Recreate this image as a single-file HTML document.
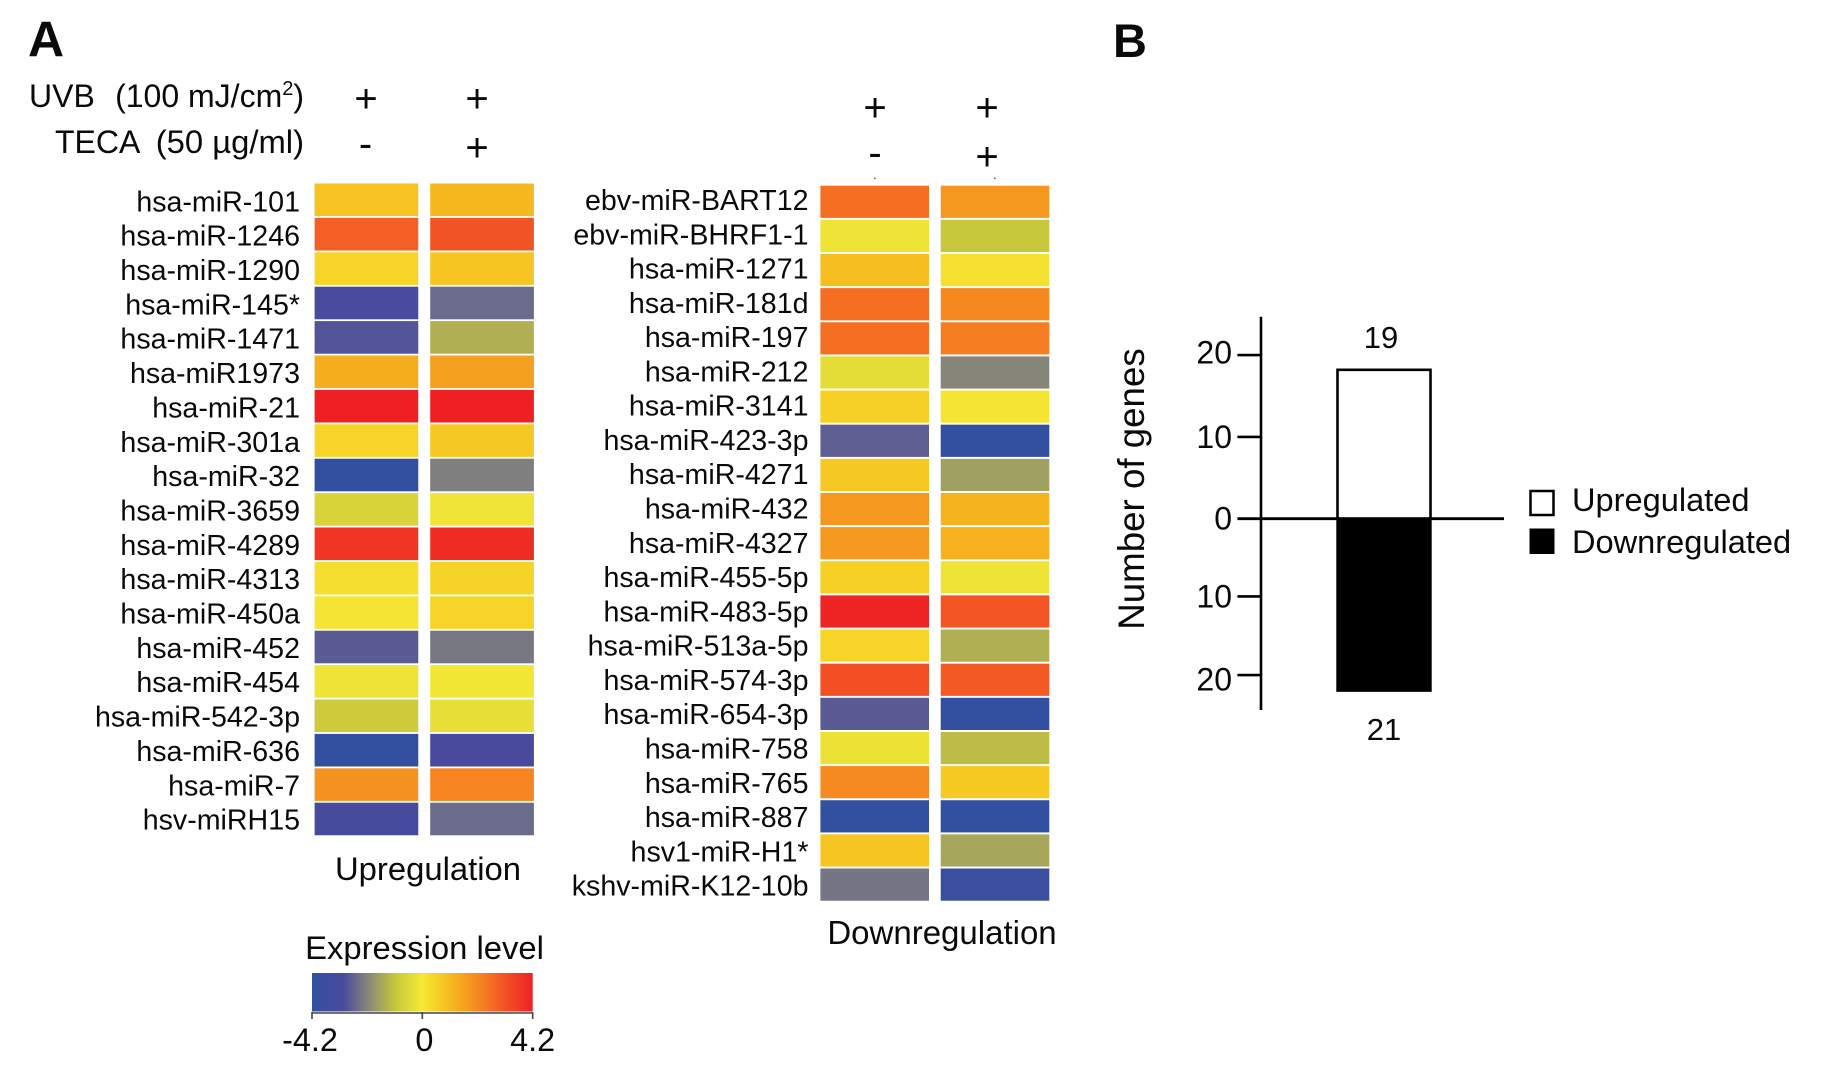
<!DOCTYPE html>
<html lang="en">
<head>
<meta charset="utf-8">
<title>miRNA expression heatmaps and gene counts</title>
<style>
html,body{margin:0;padding:0;background:#fff;}
svg{display:block;}
text{font-family:"Liberation Sans",Arial,sans-serif;fill:#0a0a0a;}
</style>
</head>
<body>
<svg id="figure" xmlns="http://www.w3.org/2000/svg" width="1831" height="1078" viewBox="0 0 1831 1078">
  <rect width="1831" height="1078" fill="#ffffff"/>
  <text x="28" y="56.5" font-size="50" font-weight="bold">A</text>
  <text x="1113" y="57" font-size="47" font-weight="bold">B</text>

  <text x="29" y="107" font-size="32">UVB</text>
  <text x="304" y="107" font-size="32" text-anchor="end">(100 mJ/cm<tspan font-size="20" dy="-12">2</tspan><tspan dy="12">)</tspan></text>
  <text x="55" y="153" font-size="32">TECA</text>
  <text x="304" y="153" font-size="32.8" text-anchor="end">(50 µg/ml)</text>

  <text x="366" y="112" font-size="40" text-anchor="middle">+</text>
  <text x="477" y="112" font-size="40" text-anchor="middle">+</text>
  <text x="365.5" y="157" font-size="40" text-anchor="middle">-</text>
  <text x="477" y="161" font-size="40" text-anchor="middle">+</text>

  <text x="875" y="121" font-size="40" text-anchor="middle">+</text>
  <text x="987" y="121" font-size="40" text-anchor="middle">+</text>
  <text x="875" y="166" font-size="40" text-anchor="middle">-</text>
  <text x="987" y="170" font-size="40" text-anchor="middle">+</text>
  <rect x="874" y="177.5" width="1.5" height="1.5" fill="#555"/>
  <rect x="994" y="177.5" width="1.5" height="1.5" fill="#555"/>

  <text x="428" y="880" font-size="32.8" text-anchor="middle">Upregulation</text>
  <text x="942" y="944" font-size="33" text-anchor="middle">Downregulation</text>
  <text x="424.5" y="959" font-size="32.8" text-anchor="middle">Expression level</text>

  <text transform="translate(1144 489) rotate(-90)" font-size="36.7" text-anchor="middle">Number of genes</text>

  <rect x="1530.5" y="491" width="23" height="24" fill="#fff" stroke="#000" stroke-width="2.5"/>
  <text x="1572" y="511" font-size="32.6">Upregulated</text>
  <rect x="1529.5" y="528.5" width="25" height="25.5" fill="#000"/>
  <text x="1572" y="553" font-size="32.6">Downregulated</text>

  <g id="heat-up"></g>
  <g id="heat-down"></g>
  <g id="colorbar"></g>
  <g id="bars"></g>
</svg>

<script>
// Upregulation heatmap data (expression level, log scale -4.2..4.2)
const upCategories = ["hsa-miR-101","hsa-miR-1246","hsa-miR-1290","hsa-miR-145*","hsa-miR-1471","hsa-miR1973","hsa-miR-21","hsa-miR-301a","hsa-miR-32","hsa-miR-3659","hsa-miR-4289","hsa-miR-4313","hsa-miR-450a","hsa-miR-452","hsa-miR-454","hsa-miR-542-3p","hsa-miR-636","hsa-miR-7","hsv-miRH15"];
const upControl = [0.85,2.9,0.45,-3.1,-2.85,1.35,4.2,0.45,-4.2,-0.65,3.75,0.25,0.12,-2.75,-0.15,-0.9,-4.2,1.9,-3.15];
const upTeca = [1.1,3.15,0.8,-2.5,-1.4,1.65,4.2,0.75,-2.2,-0.12,3.95,0.5,0.45,-2.3,-0.05,-0.3,-3.05,2.2,-2.5];

// Downregulation heatmap data
const downCategories = ["ebv-miR-BART12","ebv-miR-BHRF1-1","hsa-miR-1271","hsa-miR-181d","hsa-miR-197","hsa-miR-212","hsa-miR-3141","hsa-miR-423-3p","hsa-miR-4271","hsa-miR-432","hsa-miR-4327","hsa-miR-455-5p","hsa-miR-483-5p","hsa-miR-513a-5p","hsa-miR-574-3p","hsa-miR-654-3p","hsa-miR-758","hsa-miR-765","hsa-miR-887","hsv1-miR-H1*","kshv-miR-K12-10b"];
const downControl = [2.6,-0.15,0.95,2.6,2.6,-0.35,0.55,-2.7,0.75,1.8,1.75,0.55,4.1,0.45,3.2,-2.75,-0.2,2.05,-4.2,0.8,-2.35];
const downTeca = [1.8,-1.0,0.2,2.1,2.3,-2.1,0.1,-4.2,-1.65,1.2,1.25,-0.15,3.1,-1.4,3.0,-4.2,-1.2,0.7,-4.2,-1.55,-3.8];

// Colour scale
const scaleValues = [-4.2,-3.0,-2.2,-1.0,0,0.6,1.2,2.0,3.0,4.2];
const scaleColors = ["#3350a0","#4a4a9e","#7f7f7f","#c8c83c","#f5e935","#f6ce24","#f5b41e","#f58e20","#f35a24","#ee2024"];
const colorbarTicks = [-4.2,0,4.2];
const colorbarTickLabels = ["-4.2","0","4.2"];

// Bar chart data
const barTicksUp = [0,10,20];
const barTicksDown = [10,20];
const upregulatedBarHeight = [18.2];
const downregulatedBarHeight = [22];
const printedCounts = ["19","21"];

const SVGNS = "http://www.w3.org/2000/svg";

function hexToRgb(h){
  return [parseInt(h.slice(1,3),16),parseInt(h.slice(3,5),16),parseInt(h.slice(5,7),16)];
}
function colorFor(v){
  const n = scaleValues.length;
  if(v <= scaleValues[0]) return scaleColors[0];
  if(v >= scaleValues[n-1]) return scaleColors[n-1];
  for(let i=0;i<n-1;i++){
    if(v <= scaleValues[i+1]){
      const t = (v-scaleValues[i])/(scaleValues[i+1]-scaleValues[i]);
      const a = hexToRgb(scaleColors[i]);
      const b = hexToRgb(scaleColors[i+1]);
      return "rgb("+a.map((c,k)=>Math.round(c+(b[k]-c)*t)).join(",")+")";
    }
  }
  return scaleColors[n-1];
}
function addRect(parent,x,y,w,h,fill,name){
  const el = document.createElementNS(SVGNS,"rect");
  el.setAttribute("x",x);
  el.setAttribute("y",y);
  el.setAttribute("width",w);
  el.setAttribute("height",h);
  el.setAttribute("fill",fill);
  
  
  parent.appendChild(el);
  return el;
}
function addLine(parent,x1,y1,x2,y2,width,name){
  const el = document.createElementNS(SVGNS,"line");
  el.setAttribute("x1",x1);
  el.setAttribute("y1",y1);
  el.setAttribute("x2",x2);
  el.setAttribute("y2",y2);
  el.setAttribute("stroke","#000");
  el.setAttribute("stroke-width",width);
  
  
  parent.appendChild(el);
  return el;
}
function addText(parent,str,x,y,size,anchor,name){
  const el = document.createElementNS(SVGNS,"text");
  el.setAttribute("x",x);
  el.setAttribute("y",y);
  el.setAttribute("font-size",size);
  el.setAttribute("text-anchor",anchor);
  el.textContent = str;
  
  
  parent.appendChild(el);
  return el;
}

function drawHeatmap(parent,categories,columnA,columnB,geom){
  const rowY = i => geom.top + i*geom.pitch;
  const labelY = i => geom.labelStart + i*geom.labelPitch;
  categories.forEach((cat,i)=>{
    addText(parent,cat,geom.labelX,labelY(i),geom.fontSize,"end","row-label-"+cat);
    addRect(parent,geom.colA,rowY(i),geom.colW,geom.rowH,colorFor(columnA[i]),"cell-uvb-"+cat);
    addRect(parent,geom.colB,rowY(i),geom.colW,geom.rowH,colorFor(columnB[i]),"cell-uvb-teca-"+cat);
  });
}

drawHeatmap(document.getElementById("heat-up"),upCategories,upControl,upTeca,{
  top:183.5,pitch:34.4,rowH:32.6,colA:314.6,colB:430.2,colW:103.7,
  labelX:300,labelStart:211.3,labelPitch:34.35,fontSize:28.6
});
drawHeatmap(document.getElementById("heat-down"),downCategories,downControl,downTeca,{
  top:185.7,pitch:34.14,rowH:32.2,colA:820.4,colB:940.7,colW:108.6,
  labelX:808.5,labelStart:210,labelPitch:34.28,fontSize:28.6
});

// Colour bar
(function(){
  const g = document.getElementById("colorbar");
  const barLeft = 312, barRight = 532.7, barTop = 973, barBottom = 1011.5;
  const xScale = v => barLeft + (v-scaleValues[0])/(scaleValues[scaleValues.length-1]-scaleValues[0])*(barRight-barLeft);
  const defs = document.createElementNS(SVGNS,"defs");
  const grad = document.createElementNS(SVGNS,"linearGradient");
  grad.setAttribute("id","expr-grad");
  scaleValues.forEach((v,i)=>{
    const s = document.createElementNS(SVGNS,"stop");
    s.setAttribute("offset",(xScale(v)-barLeft)/(barRight-barLeft));
    s.setAttribute("stop-color",scaleColors[i]);
    grad.appendChild(s);
  });
  defs.appendChild(grad);
  g.appendChild(defs);
  addRect(g,barLeft,barTop,barRight-barLeft,barBottom-barTop,"url(#expr-grad)","colorbar-gradient");
  const axis = addLine(g,barLeft,1013,barRight,1013,1.6,"colorbar-axis");
  axis.setAttribute("stroke","#444");
  colorbarTicks.forEach((t,i)=>{
    const tick = addLine(g,xScale(t),1012,xScale(t),1019,1.6,"colorbar-tick");
    tick.setAttribute("stroke","#444");
    addText(g,colorbarTickLabels[i],xScale(t)+(i===1?2:i===0?-2:0),1051,32.4,"middle","colorbar-tick-label");
  });
})();

// Bar chart
(function(){
  const g = document.getElementById("bars");
  const zero = 518.7, axisX = 1261, tickLeft = 1237.4;
  const yUp = v => zero - v*8.18;
  const yDown = v => zero + v*7.87;
  const barLeft = 1337.5, barRight = 1430.5;

  const topBar = addRect(g,barLeft,yUp(upregulatedBarHeight[0]),barRight-barLeft,zero-yUp(upregulatedBarHeight[0]),"#ffffff","bar-upregulated");
  topBar.setAttribute("stroke","#000");
  topBar.setAttribute("stroke-width","2.6");
  addRect(g,barLeft-1.2,zero,barRight-barLeft+2.4,yDown(downregulatedBarHeight[0])-zero,"#000000","bar-downregulated");

  addLine(g,axisX,316.7,axisX,710,2.6,"y-axis-line");
  addLine(g,tickLeft,zero,1504,zero,2.8,"zero-baseline");

  barTicksUp.forEach(t=>{
    if(t!==0) addLine(g,tickLeft,yUp(t),axisX,yUp(t),2.6,"y-tick-up");
    addText(g,String(t),1232,yUp(t)+(t===20?8.5:11),32,"end","y-tick-label-up");
  });
  barTicksDown.forEach(t=>{
    addLine(g,tickLeft,yDown(t)-1,axisX,yDown(t)-1,2.6,"y-tick-down");
    addText(g,String(t),1232,yDown(t)+(t===20?14.5:10),32,"end","y-tick-label-down");
  });

  addText(g,printedCounts[0],1381,348,31,"middle","bar-value-upregulated");
  addText(g,printedCounts[1],1384,740,31,"middle","bar-value-downregulated");
})();
</script>
</body>
</html>
